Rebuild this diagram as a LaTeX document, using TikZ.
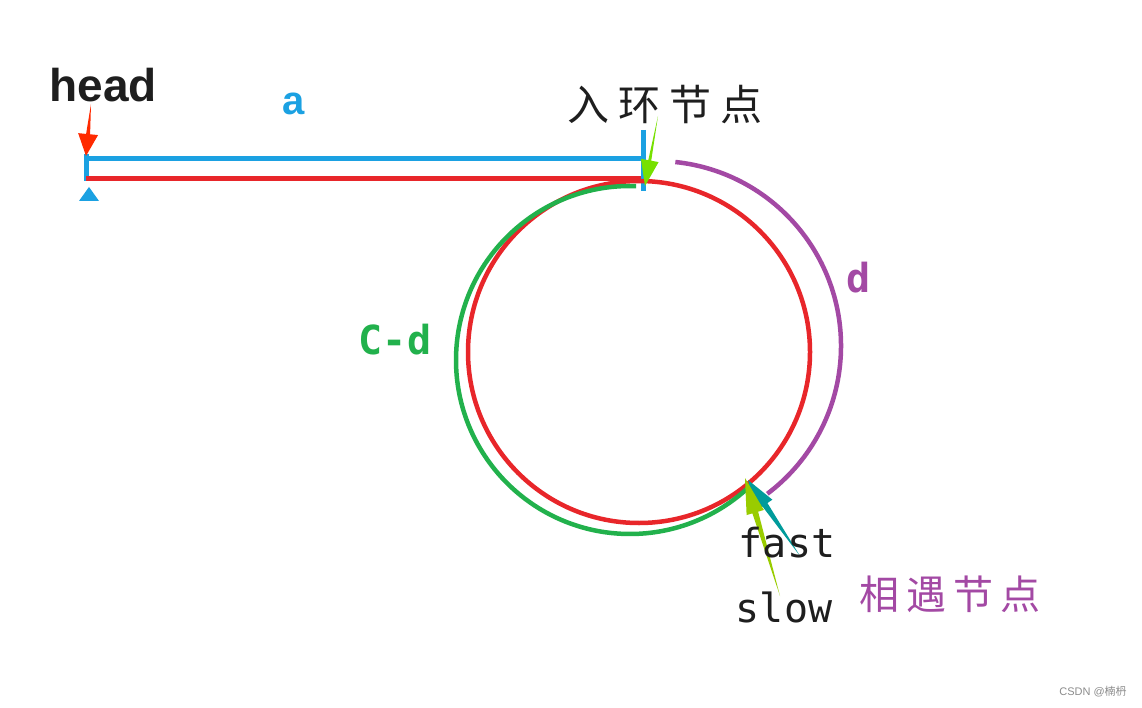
\documentclass[tikz,border=0pt]{standalone}
\usepackage{fontspec}
\usetikzlibrary{calc}
\newfontfamily\arialf{Liberation Sans}
\newfontfamily\monof{DejaVu Sans Mono}
\newfontfamily\cjkf{Noto Sans CJK SC}
\definecolor{lblue}{HTML}{1BA1E2}
\definecolor{lred}{HTML}{E8262A}
\definecolor{lgreen}{HTML}{22B14C}
\definecolor{lpurple}{HTML}{A349A4}
\definecolor{lime}{HTML}{77E000}
\definecolor{yg}{HTML}{99CC00}
\definecolor{lteal}{HTML}{009B9B}
\definecolor{hred}{HTML}{FF2A00}
\definecolor{ink}{HTML}{1E1E1E}
\newcommand\warrow[6]{%
  \coordinate (wb) at ($(#3)!#4!(#2)$);
  \fill[#1] (#2) -- ($(wb)!#6!90:(#3)$) -- ($(wb)!#5!90:(#3)$) -- (#3)
    -- ($(wb)!#5!-90:(#3)$) -- ($(wb)!#6!-90:(#3)$) -- cycle;}
\tikzset{
  lbl/.style={inner sep=0pt, anchor=center},
  seg/.style={line width=5pt},
  ring/.style={line width=4.5pt},
}
\begin{document}
\begin{tikzpicture}[x=1pt,y=-1pt]
\useasboundingbox[fill=white] (0,0) rectangle (1142,708);
% coordinates
\coordinate (hs) at (86,159);
\coordinate (he) at (643,159);
\coordinate (rs) at (86,179);
\coordinate (re) at (641,179);
\coordinate (c) at (639,352);
\coordinate (gc) at (630,360);
\coordinate (pc) at (656,346);
% lines
\draw[seg,lblue] (hs) -- (he);
\draw[seg,lblue] (86,154) -- (86,181);
\draw[seg,lblue] (643,130) -- (643,191);
\draw[seg,lred] (rs) -- (re);
\fill[lblue] (79,201) -- (99,201) -- (89,187) -- cycle;
% circles
\draw[ring,lred] (c) circle[radius=171];
\draw[ring,lgreen] ($(gc)+(-88:174)$) arc[start angle=-88,end angle=-314,radius=174];
\draw[ring,lpurple] ($(pc)+(-84:185)$) arc[start angle=-84,end angle=53,radius=185];
% arrows
\coordinate (ht) at (91,104);
\coordinate (hp) at (86,156);
\warrow{hred}{ht}{hp}{22pt}{10pt}{2pt}
\coordinate (et) at (658,116);
\coordinate (ep) at (645,186);
\warrow{lime}{et}{ep}{26pt}{9pt}{1.5pt}
\coordinate (ft) at (800,556);
\coordinate (fp) at (748,480);
\warrow{lteal}{ft}{fp}{30pt}{9pt}{3pt}
\coordinate (st) at (780,596);
\coordinate (sp) at (745,478);
\warrow{yg}{st}{sp}{36pt}{9pt}{3pt}
% labels
\node[lbl,text=ink] (head) at (103,85) {\arialf\bfseries\fontsize{46}{46}\selectfont head};
\node[lbl,text=lblue] (a) at (294,104) {\arialf\bfseries\fontsize{40}{40}\selectfont a};
\node[lbl,text=ink] (entry) at (665,105) {\cjkf\fontsize{42}{42}\selectfont 入\hspace{9pt}环\hspace{9pt}节\hspace{9pt}点};
\node[lbl,text=lpurple] (d) at (859,278) {\monof\bfseries\fontsize{40}{40}\selectfont d};
\node[lbl,text=lgreen] (cd) at (395,340) {\monof\bfseries\fontsize{40}{40}\selectfont C-d};
\node[lbl,text=ink] (fast) at (787,543) {\monof\fontsize{40}{40}\selectfont fast};
\node[lbl,text=ink] (slow) at (784,607) {\monof\fontsize{40}{40}\selectfont slow};
\node[lbl,text=lpurple] (meet) at (950,594) {\cjkf\fontsize{40}{40}\selectfont 相\hspace{7pt}遇\hspace{7pt}节\hspace{7pt}点};
\node[lbl,text=black!45] (wm) at (1093,692) {\arialf\fontsize{11}{11}\selectfont CSDN @{\cjkf 楠枬}};
\end{tikzpicture}
\end{document}
